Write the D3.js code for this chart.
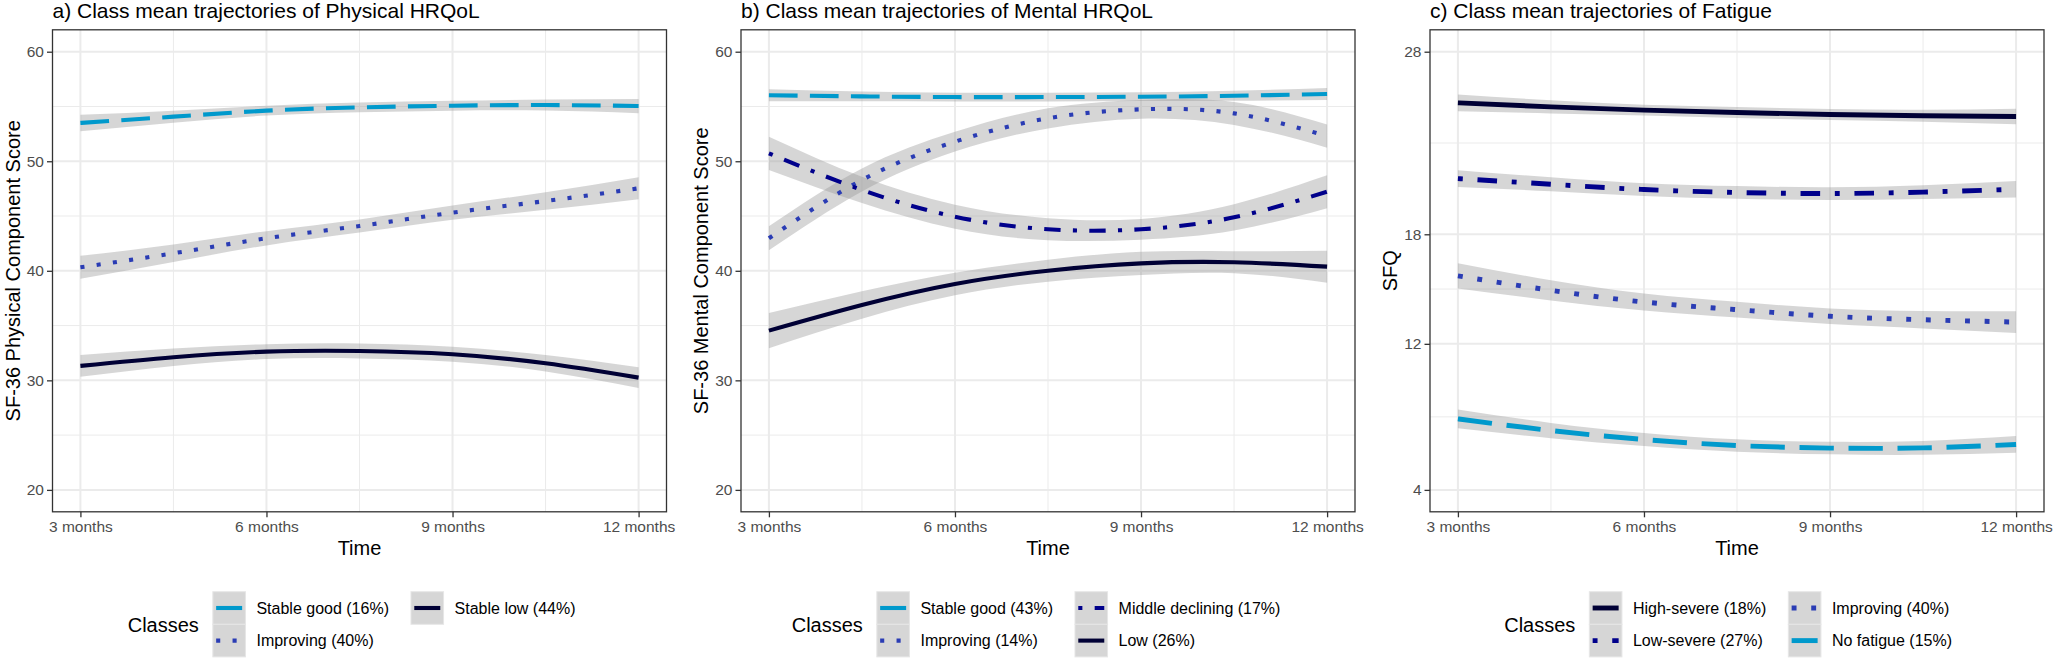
<!DOCTYPE html>
<html><head><meta charset="utf-8">
<script src="https://cdn.jsdelivr.net/npm/d3@7"></script>
<style>
body{margin:0;background:#fff}
svg{display:block}
text{font-family:"Liberation Sans",Arial,Helvetica,sans-serif}
</style>
</head><body>
<svg id="chart" width="2056" height="658"></svg>
<script>
// ---------- shared data ----------
const months = [3, 4.5, 6, 7.5, 9, 10.5, 12];
const xTicks = [3, 6, 9, 12];
const xTickLabels = ["3 months", "6 months", "9 months", "12 months"];
const xMinor = [4.5, 7.5, 10.5];

// ---------- a) Physical HRQoL ----------
const physTitle = "a) Class mean trajectories of Physical HRQoL";
const physYLabel = "SF-36 Physical Component Score";
const physNames = ["Stable good (16%)", "Improving (40%)", "Stable low (44%)"];
const physStableGood   = [53.5, 54.07, 54.62, 54.92, 55.07, 55.13, 55.04];
const physStableGoodCI = [0.75, 0.55, 0.45, 0.45, 0.45, 0.5, 0.65];
const physImproving    = [40.32, 41.6, 42.97, 44.09, 45.31, 46.37, 47.53];
const physImprovingCI  = [1.05, 0.8, 0.65, 0.6, 0.65, 0.8, 1.0];
const physStableLow    = [31.32, 32.11, 32.62, 32.68, 32.38, 31.56, 30.25];
const physStableLowCI  = [1.0, 0.8, 0.68, 0.68, 0.68, 0.75, 0.95];
const physYTicks = [20, 30, 40, 50, 60];
const physYMinor = [25, 35, 45, 55];

// ---------- b) Mental HRQoL ----------
const mentTitle = "b) Class mean trajectories of Mental HRQoL";
const mentYLabel = "SF-36 Mental Component Score";
const mentNames = ["Stable good (43%)", "Improving (14%)", "Middle declining (17%)", "Low (26%)"];
const mentStableGood   = [56.02, 55.92, 55.86, 55.86, 55.89, 55.98, 56.14];
const mentStableGoodCI = [0.55, 0.45, 0.4, 0.4, 0.4, 0.45, 0.55];
const mentImproving    = [42.97, 48.29, 51.79, 53.92, 54.74, 54.37, 52.3];
const mentImprovingCI  = [1.1, 1.05, 0.9, 0.92, 0.85, 1.05, 1.06];
const mentMiddle       = [50.72, 47.38, 44.94, 43.79, 43.79, 44.88, 47.22];
const mentMiddleCI     = [1.52, 1.2, 1.1, 1.0, 0.95, 1.2, 1.5];
const mentLow          = [34.54, 36.88, 38.8, 40.01, 40.68, 40.78, 40.38];
const mentLowCI        = [1.6, 1.25, 1.03, 1.0, 1.06, 1.0, 1.46];
const mentYTicks = [20, 30, 40, 50, 60];
const mentYMinor = [25, 35, 45, 55];

// ---------- c) Fatigue ----------
const fatTitle = "c) Class mean trajectories of Fatigue";
const fatYLabel = "SFQ";
const fatNames = ["High-severe (18%)", "Low-severe (27%)", "Improving (40%)", "No fatigue (15%)"];
const fatHigh        = [25.2, 24.98, 24.8, 24.67, 24.56, 24.49, 24.45];
const fatHighCI      = [0.46, 0.36, 0.3, 0.3, 0.3, 0.33, 0.43];
const fatLowSev      = [21.05, 20.74, 20.45, 20.29, 20.23, 20.31, 20.47];
const fatLowSevCI    = [0.46, 0.38, 0.35, 0.35, 0.35, 0.38, 0.45];
const fatImproving   = [15.72, 14.93, 14.29, 13.87, 13.51, 13.32, 13.19];
const fatImprovingCI = [0.69, 0.55, 0.46, 0.43, 0.43, 0.48, 0.6];
const fatNoFat       = [7.89, 7.25, 6.76, 6.43, 6.29, 6.3, 6.49];
const fatNoFatCI     = [0.52, 0.42, 0.36, 0.34, 0.34, 0.38, 0.46];
const fatYTicks = [4, 12, 18, 28];
const fatYMinor = [8, 15, 23];

// ---------- styles ----------
const styleOf = {
  good:      {color: "#0099CC", dash: [7, 3]},
  improving: {color: "#2A3CB4", dash: [1, 3]},
  middle:    {color: "#00008B", dash: [1, 3, 4, 3]},
  low:       {color: "#000035", dash: null}
};

const panels = [
  {title: physTitle, ylab: physYLabel, left: 52.5, yDomain: [18, 62], yTicks: physYTicks, yMinor: physYMinor,
   lwd: 4.1, legendX: 127.7,
   series: [
     {name: physNames[0], v: physStableGood, ci: physStableGoodCI, s: "good"},
     {name: physNames[1], v: physImproving, ci: physImprovingCI, s: "improving"},
     {name: physNames[2], v: physStableLow, ci: physStableLowCI, s: "low"}]},
  {title: mentTitle, ylab: mentYLabel, left: 741, yDomain: [18, 62], yTicks: mentYTicks, yMinor: mentYMinor,
   lwd: 4.1, legendX: 791.7,
   series: [
     {name: mentNames[0], v: mentStableGood, ci: mentStableGoodCI, s: "good"},
     {name: mentNames[1], v: mentImproving, ci: mentImprovingCI, s: "improving"},
     {name: mentNames[2], v: mentMiddle, ci: mentMiddleCI, s: "middle"},
     {name: mentNames[3], v: mentLow, ci: mentLowCI, s: "low"}]},
  {title: fatTitle, ylab: fatYLabel, left: 1430, yDomain: [2.8, 29.2], yTicks: fatYTicks, yMinor: fatYMinor,
   lwd: 4.9, legendX: 1504.2,
   series: [
     {name: fatNames[0], v: fatHigh, ci: fatHighCI, s: "low"},
     {name: fatNames[1], v: fatLowSev, ci: fatLowSevCI, s: "middle"},
     {name: fatNames[2], v: fatImproving, ci: fatImprovingCI, s: "improving"},
     {name: fatNames[3], v: fatNoFat, ci: fatNoFatCI, s: "good"}]}
];

const W = 614, TOP = 29.8, BOTTOM = 511.8;
const svg = d3.select("#chart");
const gridColor = "#EBEBEB", axisColor = "#333333", tickText = "#4D4D4D";

panels.forEach(p => {
  const x = d3.scaleLinear().domain([2.55, 12.45]).range([p.left, p.left + W]);
  const y = d3.scaleLinear().domain(p.yDomain).range([BOTTOM, TOP]);
  const g = svg.append("g");

  g.append("rect").attr("x", p.left).attr("y", TOP).attr("width", W).attr("height", BOTTOM - TOP).attr("fill", "#fff");
  // minor grid
  g.selectAll(".xm").data(xMinor).join("line")
    .attr("x1", d => x(d)).attr("x2", d => x(d)).attr("y1", TOP).attr("y2", BOTTOM)
    .attr("stroke", gridColor).attr("stroke-width", 1);
  g.selectAll(".ym").data(p.yMinor).join("line")
    .attr("x1", p.left).attr("x2", p.left + W).attr("y1", d => y(d)).attr("y2", d => y(d))
    .attr("stroke", gridColor).attr("stroke-width", 1);
  // major grid
  g.selectAll(".xg").data(xTicks).join("line")
    .attr("x1", d => x(d)).attr("x2", d => x(d)).attr("y1", TOP).attr("y2", BOTTOM)
    .attr("stroke", gridColor).attr("stroke-width", 2);
  g.selectAll(".yg").data(p.yTicks).join("line")
    .attr("x1", p.left).attr("x2", p.left + W).attr("y1", d => y(d)).attr("y2", d => y(d))
    .attr("stroke", gridColor).attr("stroke-width", 2);

  const curve = d3.curveNatural;
  // ribbons
  p.series.forEach(s => {
    const pts = months.map((m, i) => ({m, v: s.v[i], c: s.ci[i]}));
    g.append("path").datum(pts)
      .attr("d", d3.area().curve(curve).x(d => x(d.m)).y0(d => y(d.v - d.c)).y1(d => y(d.v + d.c)))
      .attr("fill", "#999999").attr("fill-opacity", 0.4);
  });
  // lines
  p.series.forEach(s => {
    const st = styleOf[s.s];
    const pts = months.map((m, i) => ({m, v: s.v[i]}));
    g.append("path").datum(pts)
      .attr("d", d3.line().curve(curve).x(d => x(d.m)).y(d => y(d.v)))
      .attr("fill", "none").attr("stroke", st.color).attr("stroke-width", p.lwd)
      .attr("stroke-dasharray", st.dash ? st.dash.map(k => k * p.lwd).join(",") : null);
  });

  // panel border
  g.append("rect").attr("x", p.left).attr("y", TOP).attr("width", W).attr("height", BOTTOM - TOP)
    .attr("fill", "none").attr("stroke", axisColor).attr("stroke-width", 1.3);

  // axes
  const xAxis = d3.axisBottom(x).tickValues(xTicks).tickFormat((d, i) => xTickLabels[i]).tickSize(5.5).tickPadding(4);
  const gx = g.append("g").attr("transform", `translate(0,${BOTTOM})`).call(xAxis);
  gx.select(".domain").remove();
  gx.selectAll("line").attr("stroke", axisColor).attr("stroke-width", 1.3);
  gx.selectAll("text").attr("fill", tickText).style("font-size", "15.5px")
    .style("font-family", '"Liberation Sans",Arial,sans-serif');

  const yAxis = d3.axisLeft(y).tickValues(p.yTicks).tickSize(5.5).tickPadding(3);
  const gy = g.append("g").attr("transform", `translate(${p.left},0)`).call(yAxis);
  gy.select(".domain").remove();
  gy.selectAll("line").attr("stroke", axisColor).attr("stroke-width", 1.3);
  gy.selectAll("text").attr("fill", tickText).style("font-size", "15.5px")
    .style("font-family", '"Liberation Sans",Arial,sans-serif');

  // titles
  g.append("text").attr("x", p.left).attr("y", 18).text(p.title)
    .style("font-size", "21px").attr("fill", "#000");
  g.append("text").attr("x", p.left + W / 2).attr("y", 555).attr("text-anchor", "middle")
    .text("Time").style("font-size", "20px").attr("fill", "#000");
  g.append("text").attr("transform", `translate(${p.left - 33},${(TOP + BOTTOM) / 2}) rotate(-90)`)
    .attr("text-anchor", "middle").text(p.ylab).style("font-size", "20px").attr("fill", "#000");

  // legend
  const lg = svg.append("g");
  const titleEl = lg.append("text").attr("x", p.legendX).attr("y", 625 + 7).text("Classes")
    .style("font-size", "20px").attr("fill", "#000");
  const tw = titleEl.node().getComputedTextLength();
  const keySize = 32.6, rowTop = [591.7, 624.3];
  let colX = p.legendX + tw + 14;
  const cols = [p.series.slice(0, 2), p.series.slice(2, 4)];
  cols.forEach(col => {
    if (!col.length) return;
    let maxW = 0;
    col.forEach((s, r) => {
      const st = styleOf[s.s];
      const ky = rowTop[r];
      lg.append("rect").attr("x", colX).attr("y", ky).attr("width", keySize).attr("height", keySize)
        .attr("fill", "#D6D6D6").attr("stroke", "#E6E6E6").attr("stroke-width", 1);
      lg.append("line").attr("x1", colX + 3.3).attr("x2", colX + keySize - 3.3)
        .attr("y1", ky + keySize / 2).attr("y2", ky + keySize / 2)
        .attr("stroke", st.color).attr("stroke-width", p.lwd)
        .attr("stroke-dasharray", st.dash ? st.dash.map(k => k * p.lwd).join(",") : null);
      const t = lg.append("text").attr("x", colX + keySize + 11).attr("y", ky + keySize / 2 + 5.6)
        .text(s.name).style("font-size", "16px").attr("fill", "#000");
      maxW = Math.max(maxW, t.node().getComputedTextLength());
    });
    colX = colX + keySize + 11 + maxW + 22;
  });
});
</script>
</body></html>
